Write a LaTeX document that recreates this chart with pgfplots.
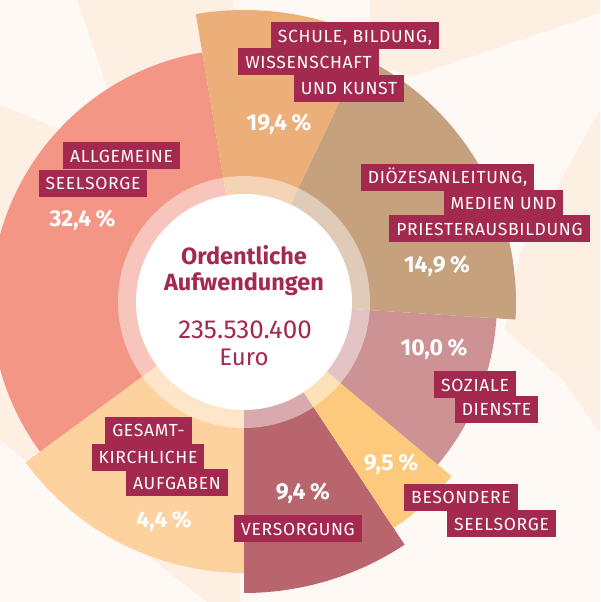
\documentclass[border=0pt]{standalone}
\usepackage{fontspec}
\setmainfont{Fira Sans}
\newfontfamily\lblfont{Fira Sans}[LetterSpace=4]
\usepackage{pgfplots}
\usepackage{pgfplotstable}
\pgfplotsset{compat=1.18}

\definecolor{cBg}{HTML}{FEF9F4}
\definecolor{cCream}{HTML}{FDF0E3}
\definecolor{cBox}{HTML}{A3294F}
\definecolor{cAll}{HTML}{F49686}
\definecolor{cSch}{HTML}{EDAF7A}
\definecolor{cDio}{HTML}{C5A17E}
\definecolor{cSoz}{HTML}{CC9294}
\definecolor{cBes}{HTML}{FDC97D}
\definecolor{cVer}{HTML}{B8656D}
\definecolor{cGes}{HTML}{FDD29F}

% segments: start / end angle (deg), outer radius (px), colour
\pgfplotstableread{
start end r col
99.5 216.3 253 cAll
216.3 270 271 cGes
270 303.5 291 cVer
303.5 320 271 cBes
320 356.3 253 cSoz
356.3 424.5 272 cDio
64.5 99.5 292 cSch
}\segments

\tikzset{
  lbl/.style={fill=cBox, text=white, inner xsep=7pt, inner ysep=0pt,
    minimum height=27pt, text height=12.5pt, text depth=0pt,
    font=\lblfont\fontsize{17.5}{17.5}\selectfont},
  pct/.style={text=white, font=\fontsize{23}{23}\selectfont\bfseries},
  ctr/.style={text=cBox, font=\fontsize{26}{26}\selectfont},
  ctrb/.style={text=cBox, font=\fontsize{23.5}{23.5}\selectfont\bfseries},
}
\newcommand\pc{\hspace{0.2em}\%}

\begin{document}
\begin{tikzpicture}
\begin{axis}[
  x=1pt, y=1pt,
  xmin=0, xmax=600, ymin=0, ymax=602,
  hide axis,
  clip=true,
  clip bounding box=upper bound,
]
\fill[cBg] (axis cs:0,0) rectangle (axis cs:600,602);
\coordinate (bl) at (axis cs:0,0);
\coordinate (tr) at (axis cs:600,602);

% pale rays of the background
\addplot[fill=cCream, draw=none] coordinates {(77,602) (233,602) (240,452) (129,452)};
\addplot[fill=cCream, draw=none] coordinates {(0,497) (60,472) (40,360) (0,360)};
\addplot[fill=cCream, draw=none] coordinates {(0,225) (0,162) (207,0) (240,0) (240,200)};
\addplot[fill=cCream, draw=none] coordinates {(370,602) (600,602) (600,589) (410,525) (370,540)};
\addplot[fill=cCream, draw=none] coordinates {(600,492) (520,349) (505,272) (563,222) (600,169)};

\pgfplotsinvokeforeach{0,...,6}{
  \pgfplotstablegetelem{#1}{start}\of\segments \let\sa\pgfplotsretval
  \pgfplotstablegetelem{#1}{end}\of\segments \let\se\pgfplotsretval
  \pgfplotstablegetelem{#1}{r}\of\segments \let\sr\pgfplotsretval
  \pgfplotstablegetelem{#1}{col}\of\segments \let\sc\pgfplotsretval
  \edef\temp{\noexpand\fill[\sc] (axis cs:244,300) -- ++(\sa:\sr pt)
    arc[start angle=\sa, end angle=\se, radius=\sr pt] -- cycle;}
  \temp
}

% inner ring and centre disc
\fill[white, opacity=0.45] (axis cs:244,300) circle[radius=126pt];
\fill[white] (axis cs:244,300) circle[radius=108pt];

% centre text
\node[ctrb] at (axis cs:244,347) {Ordentliche};
\node[ctrb] at (axis cs:244,318) {Aufwendungen};
\node[ctr] at (axis cs:245,272) {235.530.400};
\node[ctr, font=\fontsize{24}{24}\selectfont] at (axis cs:244,245) {Euro};

% Schule, Bildung, Wissenschaft und Kunst
\node[lbl] at (axis cs:355,566) {SCHULE, BILDUNG,};
\node[lbl] at (axis cs:308.5,540) {WISSENSCHAFT};
\node[lbl] at (axis cs:349,513.5) {UND KUNST};
\node[pct] at (axis cs:279,478) {19,4\pc};

% Allgemeine Seelsorge
\node[lbl] at (axis cs:121.5,446) {ALLGEMEINE};
\node[lbl] at (axis cs:93,418.5) {SEELSORGE};
\node[pct] at (axis cs:82.5,382) {32,4\pc};

% Dioezesanleitung
\node[lbl] at (axis cs:447.5,424.5) {DIÖZESANLEITUNG,};
\node[lbl] at (axis cs:503.5,398.5) {MEDIEN UND};
\node[lbl] at (axis cs:489.5,373) {PRIESTERAUSBILDUNG};
\node[pct] at (axis cs:437,336) {14,9\pc};

% Soziale Dienste
\node[pct] at (axis cs:434,253) {10,0\pc};
\node[lbl] at (axis cs:475,217) {SOZIALE};
\node[lbl] at (axis cs:496.5,192.5) {DIENSTE};

% Besondere Seelsorge
\node[pct] at (axis cs:391,138) {9,5\pc};
\node[lbl] at (axis cs:461,104.5) {BESONDERE};
\node[lbl] at (axis cs:501.5,78) {SEELSORGE};

% Versorgung
\node[pct] at (axis cs:303,109) {9,4\pc};
\node[lbl] at (axis cs:298,73) {VERSORGUNG};

% Gesamtkirchliche Aufgaben
\node[lbl] at (axis cs:148.5,171.5) {GESAMT-};
\node[lbl] at (axis cs:148,144.5) {KIRCHLICHE};
\node[lbl] at (axis cs:177,119) {AUFGABEN};
\node[pct] at (axis cs:164,81) {4,4\pc};
\end{axis}
\pgfresetboundingbox
\path[use as bounding box] (bl) rectangle (tr);
\end{tikzpicture}
\end{document}
